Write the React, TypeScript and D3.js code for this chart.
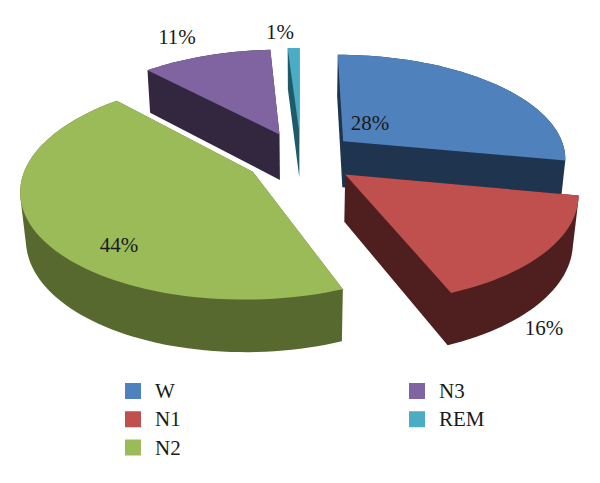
import * as d3 from 'd3'

const WIDTH = 600
const HEIGHT = 483

const STAGES = ['W', 'N1', 'N2', 'N3', 'REM']
const PERCENTS = [28, 16, 44, 11, 1]
const TOP_COLORS = ['#4f81bd', '#c0504d', '#9bbb59', '#8064a2', '#4bacc6']
const WALL_COLORS = ['#1f344f', '#4e1f1e', '#58692f', '#33273f', '#1f5a68']

// where the percent labels sit, same order as STAGES
const LABEL_X = [370, 544, 119, 177, 280]
const LABEL_Y = [130, 335, 252, 44, 39]

// back to front
const DRAW_ORDER = [4, 3, 0, 2, 1]

// fake 3D camera, fitted by eye against the picture
const CX = 301
const CY = 157.5
const RX = 224
const RY = 104
const EXPLODE = 0.25
const PERSPECTIVE = 0.15
const DEPTH = 47.5
const DEPTH_SHRINK = 0.02

type Pt = [number, number]

function project(u: number, v: number, z: number): Pt {
  const w = 1 - PERSPECTIVE * v + DEPTH_SHRINK * z
  return [CX + (RX * u) / w, CY + (RY * v + DEPTH * z) / w]
}

const arcs = d3.pie<number>().sort(null)(PERCENTS)
const line = d3.line()
const color = d3.scaleOrdinal<string, string>().domain(STAGES).range(TOP_COLORS)
const wallColor = d3.scaleOrdinal<string, string>().domain(STAGES).range(WALL_COLORS)

function outline(i: number): Pt[] {
  const a = arcs[i]
  const mid = (a.startAngle + a.endAngle) / 2
  const ox = EXPLODE * Math.sin(mid)
  const oy = -EXPLODE * Math.cos(mid)
  const steps = Math.max(4, Math.ceil((a.endAngle - a.startAngle) * 30))
  const rim = d3.range(steps + 1).map(k => {
    const t = a.startAngle + ((a.endAngle - a.startAngle) * k) / steps
    return [ox + Math.sin(t), oy - Math.cos(t)] as Pt
  })
  return [[ox, oy], ...rim]
}

// every slice is under 180 degrees, so the extruded block is just the hull of top and bottom
function wall(pts: Pt[]): string {
  const all = pts.flatMap(p => [project(p[0], p[1], 0), project(p[0], p[1], 1)])
  return line(d3.polygonHull(all) as Pt[]) + 'Z'
}

// legend rows, two columns
const legendCol = d3.scaleOrdinal<number, number>().domain([0, 1]).range([125, 409])
const legendRow = d3.scaleLinear().domain([0, 2]).range([391, 447.5])

export default function App() {
  return (
    <svg
      width={WIDTH}
      height={HEIGHT}
      style={{ position: 'absolute', left: 0, top: 0, background: '#fff' }}
      fontFamily="'Liberation Serif', serif"
      fontSize={21}
      fill="#1a1a1a"
    >
      {DRAW_ORDER.map(i => {
        const pts = outline(i)
        const stage = STAGES[i]
        return (
          <g key={stage}>
            <path d={wall(pts)} fill={wallColor(stage)} />
            <path d={line(pts.map(p => project(p[0], p[1], 0))) + 'Z'} fill={color(stage)} />
          </g>
        )
      })}

      {PERCENTS.map((p, i) => (
        <text key={i} x={LABEL_X[i]} y={LABEL_Y[i]} textAnchor="middle">
          {p}%
        </text>
      ))}

      {STAGES.map((s, i) => {
        const col = i < 3 ? 0 : 1
        const row = i < 3 ? i : i - 3
        const x = legendCol(col)
        const y = legendRow(row)
        return (
          <g key={s}>
            <rect x={x} y={y - 8} width={16} height={16} fill={color(s)} />
            <text x={x + 30} y={y + 7}>{s}</text>
          </g>
        )
      })}
    </svg>
  )
}
